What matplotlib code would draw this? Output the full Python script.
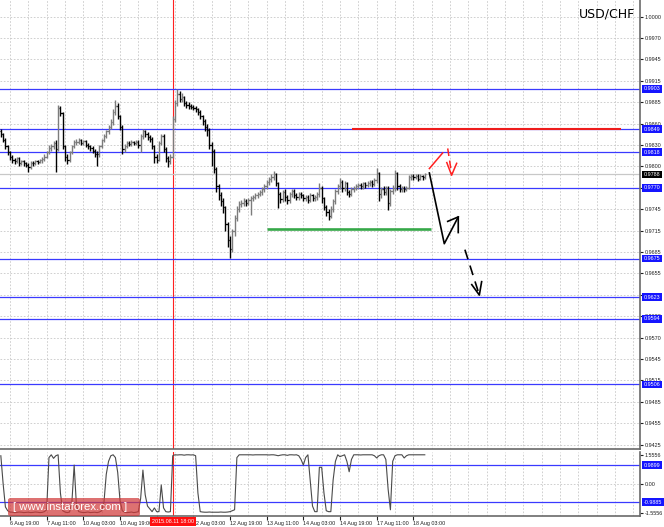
import numpy as np
import matplotlib
matplotlib.use("Agg")
import matplotlib.pyplot as plt
import matplotlib.transforms as mtrans
from matplotlib.patches import FancyBboxPatch

plt.rcParams['font.family'] = ['Liberation Sans', 'DejaVu Sans']

symbol = "USD/CHF"

# H1 bars, first bar is 4 hours before 6 Aug 19:00; prices in pips (x 10000)
close = [9842, 9835, 9826, 9818,
         9812, 9808, 9806, 9810, 9804,  9806, 9803, 9801, 9798, 9804,
         9803, 9806, 9805, 9807, 9809,  9812, 9818, 9824, 9826, 9830,
         9822, 9878, 9870, 9826, 9812,  9808, 9818, 9826, 9831, 9832,
         9834, 9830, 9833, 9828, 9826,  9824, 9820, 9816, 9815, 9826,
         9834, 9840, 9846, 9852, 9858,  9872, 9880, 9866, 9852, 9822,
         9826, 9830, 9829, 9831, 9830,  9832, 9828, 9840, 9846, 9842,
         9838, 9836, 9826, 9812, 9808,  9830, 9840, 9822, 9810, 9806,
         9812, 9862, 9884, 9896, 9890,  9892, 9884, 9882, 9880, 9879,
         9878, 9876, 9872, 9866, 9860,  9852, 9848, 9828, 9820, 9796,
         9772, 9760, 9752, 9744, 9722,  9700, 9688, 9712, 9730, 9742,
         9748, 9750, 9752, 9750, 9754,  9756, 9758, 9760, 9762, 9764,
         9768, 9772, 9778, 9782, 9784,  9788, 9776, 9762, 9755, 9764,
         9758, 9754, 9762, 9766, 9760,  9758, 9762, 9760, 9756, 9758,
         9754, 9760, 9756, 9758, 9762,  9770, 9756, 9744, 9738, 9732,
         9742, 9752, 9766, 9772, 9778,  9770, 9776, 9764, 9762, 9768,
         9770, 9772, 9774, 9772, 9776,  9774, 9776, 9778, 9775, 9780,
         9790, 9762, 9768, 9764, 9770,  9750, 9766, 9770, 9790, 9772,
         9768, 9770, 9768, 9770, 9784,  9786, 9784, 9786, 9782, 9786,
         9784, 9788]
high = [9849, 9844, 9837, 9828,
        9820, 9814, 9810, 9812, 9812,  9808, 9808, 9805, 9803, 9806,
        9806, 9808, 9808, 9809, 9812,  9815, 9820, 9827, 9829, 9833,
        9834, 9881, 9880, 9872, 9828,  9815, 9820, 9828, 9834, 9836,
        9837, 9836, 9835, 9835, 9830,  9828, 9826, 9822, 9819, 9828,
        9836, 9842, 9848, 9855, 9862,  9876, 9888, 9884, 9868, 9854,
        9829, 9833, 9833, 9834, 9833,  9835, 9834, 9843, 9849, 9848,
        9845, 9841, 9838, 9828, 9815,  9833, 9843, 9842, 9825, 9813,
        9815, 9866, 9888, 9903, 9900,  9897, 9894, 9887, 9885, 9883,
        9882, 9880, 9878, 9874, 9868,  9862, 9856, 9850, 9832, 9822,
        9798, 9775, 9764, 9756, 9746,  9724, 9705, 9715, 9733, 9746,
        9752, 9754, 9756, 9755, 9757,  9759, 9761, 9763, 9765, 9767,
        9771, 9775, 9781, 9785, 9788,  9793, 9790, 9778, 9765, 9767,
        9768, 9761, 9765, 9769, 9768,  9763, 9765, 9764, 9762, 9761,
        9760, 9763, 9762, 9761, 9765,  9776, 9772, 9758, 9747, 9741,
        9745, 9755, 9769, 9775, 9783,  9780, 9779, 9778, 9767, 9771,
        9773, 9775, 9777, 9777, 9778,  9778, 9779, 9780, 9781, 9783,
        9797, 9792, 9771, 9772, 9773,  9772, 9769, 9774, 9794, 9792,
        9775, 9773, 9772, 9773, 9787,  9789, 9788, 9788, 9788, 9788,
        9787, 9790]
low = [9838, 9832, 9822, 9814,
       9808, 9804, 9802, 9803, 9800,  9801, 9800, 9798, 9791, 9796,
       9800, 9801, 9802, 9803, 9804,  9806, 9810, 9815, 9820, 9822,
       9791, 9820, 9866, 9822, 9806,  9802, 9805, 9815, 9823, 9828,
       9829, 9827, 9827, 9825, 9822,  9820, 9817, 9812, 9800, 9812,
       9823, 9831, 9837, 9843, 9849,  9855, 9868, 9862, 9848, 9815,
       9818, 9823, 9826, 9826, 9827,  9827, 9824, 9818, 9836, 9838,
       9834, 9832, 9822, 9803, 9804,  9806, 9827, 9818, 9805, 9798,
       9802, 9810, 9858, 9880, 9886,  9886, 9880, 9878, 9876, 9876,
       9874, 9872, 9868, 9862, 9855,  9846, 9840, 9822, 9800, 9790,
       9765, 9754, 9746, 9736, 9712,  9690, 9676, 9684, 9706, 9726,
       9738, 9744, 9746, 9746, 9747,  9733, 9752, 9755, 9757, 9759,
       9761, 9764, 9768, 9774, 9778,  9780, 9772, 9743, 9750, 9751,
       9752, 9748, 9750, 9758, 9756,  9754, 9754, 9756, 9752, 9753,
       9750, 9751, 9752, 9753, 9754,  9758, 9750, 9740, 9732, 9727,
       9729, 9738, 9749, 9762, 9768,  9764, 9766, 9760, 9758, 9759,
       9765, 9767, 9769, 9768, 9769,  9770, 9771, 9772, 9771, 9772,
       9776, 9752, 9756, 9760, 9760,  9740, 9746, 9762, 9766, 9767,
       9764, 9765, 9764, 9766, 9768,  9781, 9780, 9782, 9779, 9780,
       9780, 9782]
first_open = 9846

# oscillator in the lower window, same bars
osc = [1.50, 0.00, -1.25, -1.45,
       -1.52, -1.53, -1.55, -1.54, -1.52, -1.53, -1.55, -1.54,
       -1.53, -1.55, -1.54, -1.52, -1.53, -1.55, -1.54, -1.50,
       -1.40, 1.40, 1.55, 1.36, 1.50, 1.55, -0.50, -1.45,
       -1.52, -1.55, -1.52, -1.00, 1.00, -1.20, -1.50,
       -1.53, -1.55, -1.54, -1.52, -1.55, -1.54, -1.53, -1.55, -1.52, -1.45,
       -1.00, 0.50, 1.20, 1.50, 1.55, 1.40, 0.60, -0.90, -1.45,
       -1.53, -1.55, -1.54, -1.52, -1.55, -1.53, -1.50,
       -0.80, 0.73, -0.60, -1.20, -1.35, -1.50, -1.30, -1.50,
       -1.50, -0.07, -1.30, -1.50, -1.52, -1.50, 1.50,
       1.55, 1.54, 1.55, 1.55, 1.53, 1.55, 1.55, 1.54, 1.55,
       1.50, -0.50, -1.50,
       -1.52, -1.53, -1.53, -1.52, -1.53, -1.53, -1.53, -1.53,
       -1.52, -1.53, -1.53, -1.52, -1.50, -1.45,
       -1.40, 1.40,
       1.55, 1.55, 1.55, 1.55, 1.55, 1.55, 1.54, 1.55, 1.55, 1.55,
       1.55, 1.55, 1.55, 1.54, 1.55, 1.55, 1.53, 1.50, 1.53, 1.55,
       1.55, 1.52, 1.55, 1.55, 1.54, 1.55, 1.50,
       1.30, 1.00, 1.40, 1.55, 0.20, -1.20, -1.50, -1.50, 0.88, 0.88,
       -0.50, -1.45, -1.50, -1.50, 0.20, 1.20, 1.55, 1.45, 1.50, 1.55,
       1.20, 0.64, 1.30,
       1.55, 1.55, 1.55, 1.54, 1.55, 1.55, 1.55, 1.55, 1.55, 1.50,
       1.38, 1.50, 1.55, 1.55, 1.30, -0.30, -1.40, 1.20, 1.50,
       1.55, 1.55, 1.55, 1.38, 1.50,
       1.55, 1.55, 1.55, 1.55, 1.55, 1.55, 1.55, 1.55]

# every 16 bars from 6 Aug 19:00; the 11 Aug 11:00 label sits under the marker box
time_labels = ["6 Aug 19:00", "7 Aug 11:00", "10 Aug 03:00", "10 Aug 19:00",
               "", "12 Aug 03:00", "12 Aug 19:00", "13 Aug 11:00",
               "14 Aug 03:00", "14 Aug 19:00", "17 Aug 11:00", "18 Aug 03:00"]
price_labels = ["1.0000", "0.9970", "0.9945", "0.9915", "0.9885", "0.9860",
                "0.9830", "0.9800", "0.9770", "0.9745", "0.9715", "0.9685",
                "0.9655", "0.9630", "0.9600", "0.9570", "0.9545", "0.9515",
                "0.9485", "0.9455", "0.9425"]
levels = [0.9903, 0.9849, 0.9818, 0.9770, 0.9675, 0.9623, 0.9594, 0.9506]
osc_levels = [0.9899, -0.9885]
resistance = 0.9849
support = 0.9715
marker_bar = 71
marker_label = "2015.08.11 18:00"

# drawn forecast arrows (bar, price)
red_up = ([183.0, 188.8], [0.9796, 0.9817])
red_down = ([191.0, 192.7], [0.9823, 0.9789])
red_head = ([190.6, 192.7, 194.9], [0.9804, 0.9787, 0.9803])
black_path = ([183.0, 189.5, 195.6], [0.9790, 0.9695, 0.9731])
black_head = ([191.0, 195.6, 195.6], [0.9725, 0.9731, 0.9710])
black_down = ([198.5, 204.8], [0.9687, 0.9626])
black_down_head = ([201.5, 204.8, 205.8], [0.9640, 0.9626, 0.9644])

W, H = 664, 527
fig = plt.figure(figsize=(W / 100, H / 100), dpi=100)
ax = fig.add_axes([0, (H - 449) / H, 640 / W, 449 / H])
ax2 = fig.add_axes([0, (H - 516) / H, 640 / W, 64 / H])

idx = np.arange(len(close)) - 4
c = np.array(close) / 1e4
h = np.array(high) / 1e4
l = np.array(low) / 1e4
o = np.r_[first_open / 1e4, c[:-1]]
cols = np.where(c >= o, '#7c7c7c', '#000000')

xlim = (-10 / 2.2917, 630 / 2.2917)
grid_kw = dict(color='#c8c8c8', lw=0.6, ls=(0, (2, 2)), zorder=0)
for a in (ax, ax2):
    a.set_xlim(*xlim)
    for gx in np.arange(0, 275, 8):
        a.axvline(gx, **grid_kw)
    a.axvline(marker_bar, color='#ff2020', lw=0.8, zorder=1)
    for s in ('left', 'top'):
        a.spines[s].set_visible(False)
    for s in ('right', 'bottom'):
        a.spines[s].set_color('#6a6a6a')
        a.spines[s].set_linewidth(1.2)

# main price window
ax.set_ylim(0.941918, 1.002244)
yt = np.linspace(1.0, 0.9425, 21)
for gy in yt:
    ax.axhline(gy, **grid_kw)
ax.yaxis.tick_right()
ax.set_yticks(yt, price_labels)
ax.tick_params(axis='y', length=2, pad=1.5, labelsize=3.9, colors='#202020')
ax.set_xticks([])

for lv in levels:
    ax.axhline(lv, color='#3a3aff', lw=0.9, zorder=1)
ax.axhline(c[-1], color='#c8c8c8', lw=0.9, zorder=1)

ax.vlines(idx, l, h, colors=cols, lw=1.0, zorder=2)
ax.hlines(o, idx - 0.55, idx, colors=cols, lw=0.9, zorder=2)
ax.hlines(c, idx, idx + 0.55, colors=cols, lw=0.9, zorder=2)

ax.hlines(resistance, 149.2, 266.6, color='#ee1c1c', lw=1.5, zorder=3)
ax.hlines(support, 112.0, 183.7, color='#35a848', lw=1.9, zorder=3)

ax.plot(*red_up, color='#ff2020', lw=1.1, zorder=4)
ax.plot(*red_down, color='#ff2020', lw=1.1, ls=(0, (5, 3)), zorder=4)
ax.plot(*red_head, color='#ff2020', lw=1.1, zorder=4)
ax.plot(*black_path, color='black', lw=1.2, zorder=4)
ax.plot(*black_head, color='black', lw=1.2, zorder=4)
ax.plot(*black_down, color='black', lw=1.2, ls=(0, (6, 4)), zorder=4)
ax.plot(*black_down_head, color='black', lw=1.2, zorder=4)

ytr = ax.get_yaxis_transform()
for lv in levels:
    ax.text(1.006, lv, f"{lv:.4f}", transform=ytr, ha='left', va='center',
            fontsize=3.9, color='white', clip_on=False, zorder=6,
            bbox=dict(boxstyle='square,pad=0.25', fc='#1515ff', ec='none'))
ax.text(1.006, c[-1], f"{c[-1]:.4f}", transform=ytr, ha='left', va='center',
        fontsize=3.9, color='white', clip_on=False, zorder=6,
        bbox=dict(boxstyle='square,pad=0.25', fc='black', ec='none'))

# oscillator window
ax2.set_ylim(-1.733, 1.70)
ax2.axhline(0, **grid_kw)
for lv in osc_levels:
    ax2.axhline(lv, color='#3a3aff', lw=0.9, zorder=1)
ax2.plot(idx, osc, color='#4a4a4a', lw=0.8, zorder=2)
ax2.yaxis.tick_right()
ax2.set_yticks([1.5556, 0, -1.5556], ["1.5556", "0.00", "-1.5556"])
ax2.tick_params(axis='y', length=2, pad=1.5, labelsize=3.9, colors='#202020')
ytr2 = ax2.get_yaxis_transform()
for lv in osc_levels:
    ax2.text(1.006, lv, f"{lv:.4f}", transform=ytr2, ha='left', va='center',
             fontsize=3.9, color='white', clip_on=False, zorder=6,
             bbox=dict(boxstyle='square,pad=0.25', fc='#1515ff', ec='none'))

ax2.set_xticks(np.arange(len(time_labels)) * 16, time_labels, ha='left')
ax2.tick_params(axis='x', length=3, pad=0.8, labelsize=3.9, colors='#202020')
xtr = mtrans.blended_transform_factory(ax2.transData, ax2.transAxes)
ax2.text(marker_bar, -0.05, marker_label, transform=xtr, ha='center', va='top',
         fontsize=3.9, color='white', clip_on=False, zorder=6,
         bbox=dict(boxstyle='square,pad=0.35', fc='#ff1010', ec='none'))

fig.text(579 / W, 1 - 14 / H, symbol, fontsize=9, ha='left', va='center',
         family=['DejaVu Sans'])

# watermark
fig.add_artist(FancyBboxPatch((8 / W, 11 / H), 132 / W, 18 / H,
                              boxstyle='round,pad=0,rounding_size=0.004',
                              transform=fig.transFigure, fc='#d03a3a',
                              ec='none', alpha=0.72, zorder=10))
fig.text(13 / W, 20 / H, "[ www.instaforex.com ]", color='white',
         fontsize=8.2, ha='left', va='center', zorder=11)

fig.savefig("out.png", dpi=100)
